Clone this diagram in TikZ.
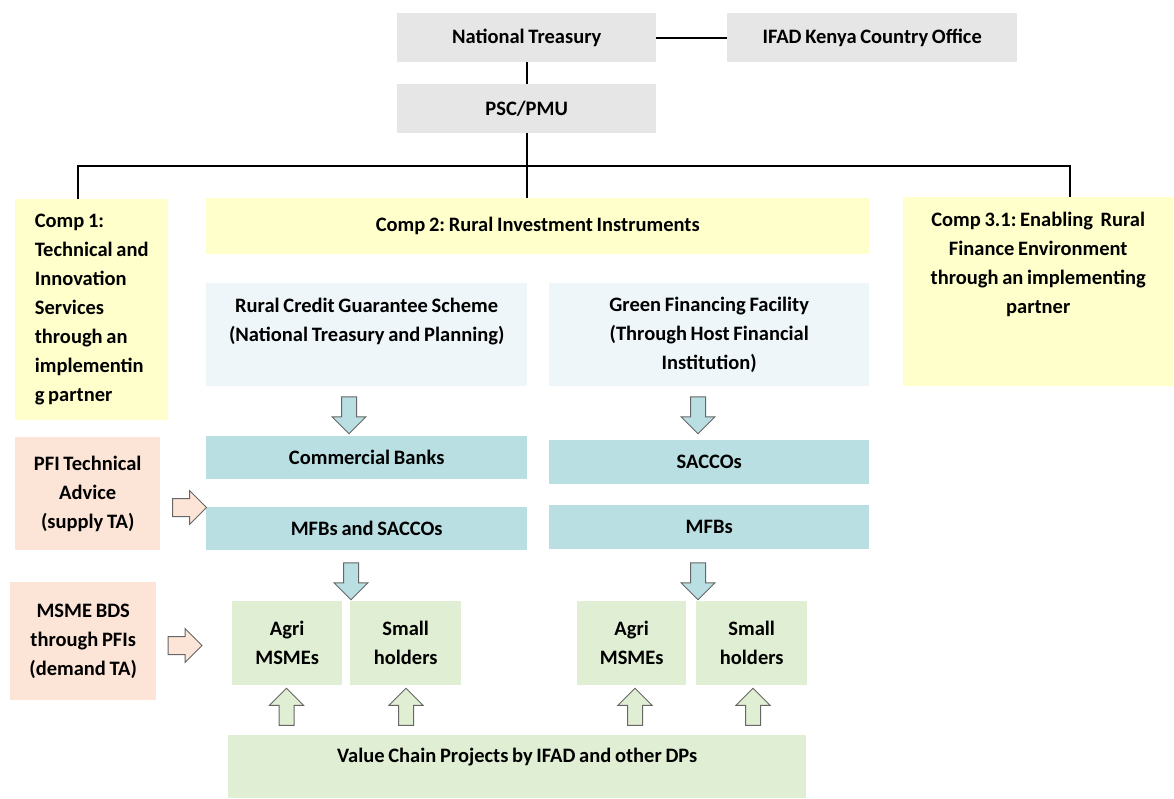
\documentclass[tikz,border=0pt]{standalone}
\usepackage{fontspec}
\setmainfont[WordSpace=0.8]{Carlito}
\frenchspacing
\usetikzlibrary{shapes.arrows}
\definecolor{boxgray}{HTML}{E6E6E6}
\definecolor{boxyellow}{HTML}{FFFFCC}
\definecolor{boxpeach}{HTML}{FCE4D6}
\definecolor{boxteal}{HTML}{B9DFE3}
\definecolor{boxpale}{HTML}{EEF6F9}
\definecolor{boxgreen}{HTML}{E0EFD3}
\definecolor{arrowline}{HTML}{666666}
\begin{document}
\begin{tikzpicture}[x=1pt, y=-1pt,
  box/.style={anchor=north west, inner sep=0pt, align=center, font=\fontsize{20.5}{29}\selectfont\bfseries},
  conn/.style={line width=1.8pt, draw=black},
  blockarr/.style={single arrow, draw=arrowline, line width=1pt, inner xsep=0pt, inner ysep=7pt,
    single arrow head extend=9.5pt, minimum height=37pt, minimum width=33pt},
  downarr/.style={blockarr, fill=boxteal, rotate=-90},
  uparr/.style={blockarr, fill=boxgreen, rotate=90},
  rightarr/.style={blockarr, fill=boxpeach, inner ysep=8.5pt, single arrow head extend=8pt, minimum height=34pt}]
\useasboundingbox (0,0) rectangle (1174,799);
% top of the chart
\node[box, fill=boxgray, minimum width=259, minimum height=49] (nt) at (397,13) {National Treasury};
\node[box, fill=boxgray, minimum width=290, minimum height=49] (ifad) at (727,13) {IFAD Kenya Country Office};
\node[box, fill=boxgray, minimum width=259, minimum height=49] (psc) at (397,84) {PSC/PMU};
% components
\node[box, fill=boxyellow, minimum width=153, minimum height=221, align=left] (comp1) at (15,199) {Comp 1:\\Technical and\\Innovation\\Services\\through an\\implementin\\g partner};
\node[box, fill=boxyellow, minimum width=663, minimum height=56] (comp2) at (206,198) {Comp 2: Rural Investment Instruments};
\node[box, fill=boxyellow, minimum width=270, minimum height=189] (comp3) at (903,197) {Comp 3.1: Enabling\ \ Rural\\Finance Environment\\through an implementing\\partner\\~\\~};
% instruments
\node[box, fill=boxpale, minimum width=321, minimum height=103] (rcgs) at (206,283) {Rural Credit Guarantee Scheme\\(National Treasury and Planning)\\~};
\node[box, fill=boxpale, minimum width=320, minimum height=103] (gff) at (549,283) {Green Financing Facility\\(Through Host Financial\\Institution)};
\node[box, fill=boxteal, minimum width=321, minimum height=43] (cb) at (206,436) {Commercial Banks};
\node[box, fill=boxteal, minimum width=321, minimum height=43] (mfbs) at (206,507) {MFBs and SACCOs};
\node[box, fill=boxteal, minimum width=320, minimum height=44] (saccos) at (549,440) {SACCOs};
\node[box, fill=boxteal, minimum width=320, minimum height=44] (mfb) at (549,505) {MFBs};
% beneficiaries
\node[box, fill=boxgreen, minimum width=110, minimum height=84] (agri1) at (232,601) {Agri\\MSMEs};
\node[box, fill=boxgreen, minimum width=111, minimum height=84] (small1) at (350,601) {Small\\holders};
\node[box, fill=boxgreen, minimum width=109, minimum height=84] (agri2) at (577,601) {Agri\\MSMEs};
\node[box, fill=boxgreen, minimum width=111, minimum height=84] (small2) at (696,601) {Small\\holders};
\node[box, fill=boxgreen, minimum width=578, minimum height=63, text depth=22pt] (vc) at (228,735) {Value Chain Projects by IFAD and other DPs};
% technical assistance
\node[box, fill=boxpeach, minimum width=145, minimum height=113] (pfi) at (15,437) {PFI Technical\\Advice\\(supply TA)};
\node[box, fill=boxpeach, minimum width=146, minimum height=118] (msme) at (10,582) {MSME BDS\\through PFIs\\(demand TA)};
% block arrows
\node[downarr] (d1) at (349,411.5) {};
\node[downarr] (d2) at (698,411.5) {};
\node[downarr] (d3) at (351,577.5) {};
\node[downarr] (d4) at (698,577.5) {};
\node[uparr] (u1) at (286.5,710.5) {};
\node[uparr] (u2) at (406,710.5) {};
\node[uparr] (u3) at (635,710.5) {};
\node[uparr] (u4) at (753,710.5) {};
\node[rightarr] (r1) at (185,507.5) {};
\node[rightarr] (r2) at (180.5,645.5) {};
% connectors
\coordinate (bar) at (526.5,166);
\draw[conn] (nt) -- (psc);
\draw[conn] (nt) -- (ifad);
\draw[conn] (psc) -- (psc |- comp2.north);
\draw[conn] ([xshift=-13.5pt]comp1.north) |- (bar) -| ([xshift=32pt]comp3.north);
\end{tikzpicture}
\end{document}
